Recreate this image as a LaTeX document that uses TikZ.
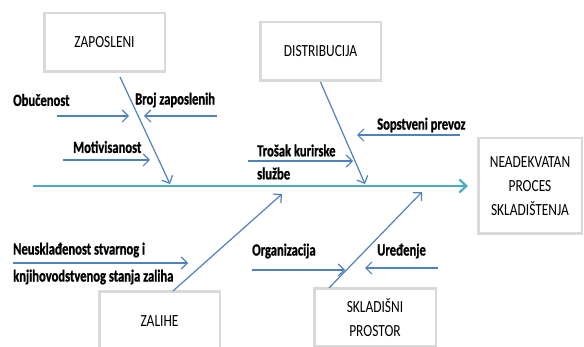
\documentclass[tikz,border=0pt]{standalone}
\usepackage{fontspec}
\setmainfont{Carlito}
\newfontfamily\boxfont[FakeStretch=0.79]{Carlito}
\newfontfamily\causefont[FakeStretch=0.74,FakeBold=1]{Carlito}
\usetikzlibrary{arrows.meta}

\definecolor{bonecol}{HTML}{4F81BD}
\definecolor{spinecol}{HTML}{4BACC6}
\definecolor{framecol}{HTML}{D9D9D9}

\begin{document}
\begin{tikzpicture}[
    x=1pt, y=-1pt,
    % Define the style for the category boxes
    category/.style={
        rectangle,
        draw=framecol,
        line width=2.5pt,
        fill=white,
        align=center,
        minimum width=120.5pt,
        minimum height=58.5pt,
        font=\boxfont\fontsize{17}{24}\selectfont
    },
    % Define the style for the cause labels
    cause/.style={
        anchor=west,
        inner sep=0pt,
        align=left,
        font=\causefont\bfseries\fontsize{17}{25}\selectfont
    },
    % Define style for arrows
    bone/.style={
        -{Straight Barb[length=6pt,width=12pt]},
        bonecol,
        line width=1.2pt
    },
    spine/.style={
        -{Straight Barb[length=7pt,width=13pt]},
        spinecol,
        line width=2.2pt
    }
]
\useasboundingbox (0,0) rectangle (584,347);

% Effect box
\node (effect) [category, minimum width=103.5pt, minimum height=95.5pt] at (530,186)
    {NEADEKVATAN\\PROCES\\SKLADIŠTENJA};

% Category boxes
\node (zap) [category] at (104.5,42.5) {ZAPOSLENI};
\node (dist) [category] at (320.5,51.5) {DISTRIBUCIJA};
\node (zal) [category, minimum height=59pt] at (159.5,321) {ZALIHE};
\node (sklad) [category, minimum width=121.5pt, minimum height=57.5pt] at (375,317.5)
    {SKLADIŠNI\\PROSTOR};

% Main spine
\coordinate (tail) at (33,186);
\draw [spine, shorten >=9pt] (tail) -- (tail -| effect.west);

% Bones from the categories
\coordinate (zapA) at (120,77);
\coordinate (zapB) at (170,184);
\coordinate (distB) at (365,184);
\coordinate (zalA) at (173,291);
\coordinate (zalB) at (282,194);
\coordinate (skladA) at (329,288);
\coordinate (skladB) at (422,192);
\draw [bone] (zapA) -- (zapB);
\draw [bone] (dist.south) -- (distB);
\draw [bone] (zalA) -- (zalB);
\draw [bone] (skladA) -- (skladB);

% Causes: ZAPOSLENI
\node (obuc) [cause] at (13,100) {Obučenost};
\node (broj) [cause] at (135,100) {Broj zaposlenih};
\node (motiv) [cause] at (73,147) {Motivisanost};
\coordinate (obucA) at (57,116);
\coordinate (obucB) at (129,116);
\coordinate (brojA) at (217,116);
\coordinate (brojB) at (144,116);
\coordinate (motivA) at (63,160);
\coordinate (motivB) at (150,160);
\draw [bone] (obucA) -- (obucB);
\draw [bone] (brojA) -- (brojB);
\draw [bone] (motivA) -- (motivB);

% Causes: DISTRIBUCIJA
\node (trosak) [cause, font=\causefont\bfseries\fontsize{17}{23}\selectfont] at (257,162)
    {Trošak kurirske\\službe};
\node (sopst) [cause] at (377,125) {Sopstveni prevoz};
\coordinate (trosakA) at (248,161);
\coordinate (trosakB) at (353,161);
\coordinate (sopstA) at (460,135);
\coordinate (sopstB) at (357,135);
\draw [bone] (trosakA) -- (trosakB);
\draw [bone] (sopstA) -- (sopstB);

% Causes: ZALIHE
\node (neusk) [cause, font=\causefont\bfseries\fontsize{17}{27}\selectfont] at (13,263.5)
    {Neusklađenost stvarnog i\\knjihovodstvenog stanja zaliha};
\coordinate (neuskA) at (13,263);
\coordinate (neuskB) at (188,263);
\draw [bone] (neuskA) -- (neuskB);

% Causes: SKLADIŠNI PROSTOR
\node (organ) [cause] at (252,251) {Organizacija};
\node (ured) [cause] at (377,251) {Uređenje};
\coordinate (organA) at (252,270);
\coordinate (organB) at (345,270);
\coordinate (uredA) at (438,268);
\coordinate (uredB) at (365,268);
\draw [bone] (organA) -- (organB);
\draw [bone] (uredA) -- (uredB);

\end{tikzpicture}
\end{document}
